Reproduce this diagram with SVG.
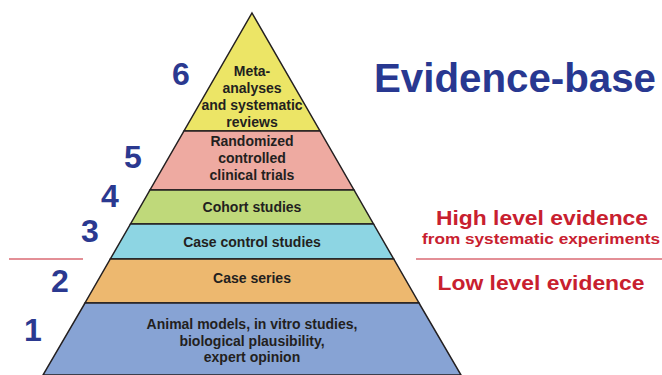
<svg xmlns="http://www.w3.org/2000/svg" width="662" height="375" viewBox="0 0 662 375">
<style>
.band{stroke:#231f20;stroke-width:1.5;stroke-linejoin:miter}
.lbl{font-family:"Liberation Sans",Arial,sans-serif;font-weight:bold;font-size:14px;fill:#231f20;text-anchor:middle}
.num{font-family:"Liberation Sans",Arial,sans-serif;font-weight:bold;font-size:32px;fill:#2b3990;text-anchor:middle}
.red{font-family:"Liberation Sans",Arial,sans-serif;font-weight:bold;fill:#c8202f;text-anchor:middle}
.sep{stroke:#c8202f;stroke-width:1.2}
</style>
<rect width="662" height="375" fill="#ffffff"/>
<g id="level6">
<polygon class="band" fill="#ece566" points="252,13 320,131 184,131"/>
<text class="lbl"><tspan x="252" y="76">Meta-</tspan><tspan x="252" y="93">analyses</tspan><tspan x="252" y="110">and systematic</tspan><tspan x="252" y="127">reviews</tspan></text>
<text class="num" x="181" y="85">6</text>
</g>
<g id="level5">
<polygon class="band" fill="#eeaaa1" points="184,131 320,131 354,190 150,190"/>
<text class="lbl"><tspan x="252" y="146">Randomized</tspan><tspan x="252" y="163">controlled</tspan><tspan x="252" y="180">clinical trials</tspan></text>
<text class="num" x="133" y="168">5</text>
</g>
<g id="level4">
<polygon class="band" fill="#bfd97a" points="150,190 354,190 373.5,224 130.5,224"/>
<text class="lbl" x="252" y="212">Cohort studies</text>
<text class="num" x="110" y="207">4</text>
</g>
<g id="level3">
<polygon class="band" fill="#8dd5e3" points="130.5,224 373.5,224 393.7,259 110.3,259"/>
<text class="lbl" x="252" y="247">Case control studies</text>
<text class="num" x="90" y="242">3</text>
</g>
<g id="level2">
<polygon class="band" fill="#edb86f" points="110.3,259 393.7,259 419,303 85,303"/>
<text class="lbl" x="252" y="283">Case series</text>
<text class="num" x="60" y="292">2</text>
</g>
<g id="level1">
<polygon class="band" fill="#87a3d4" points="85,303 419,303 461,375 43,375"/>
<text class="lbl"><tspan x="252" y="329">Animal models, in vitro studies,</tspan><tspan x="252" y="346">biological plausibility,</tspan><tspan x="252" y="362">expert opinion</tspan></text>
<text class="num" x="33" y="341">1</text>
</g>
<g id="connectors">
<line class="sep" x1="9" y1="259" x2="83" y2="259"/>
<line class="sep" x1="416" y1="259" x2="662" y2="259"/>
</g>
<g id="title">
<text x="515" y="92" font-family="Liberation Sans,Arial,sans-serif" font-weight="bold" font-size="40" fill="#283891" text-anchor="middle" textLength="282" lengthAdjust="spacingAndGlyphs">Evidence-base</text>
</g>
<g id="annotations">
<text class="red" x="542" y="225" font-size="21" textLength="212" lengthAdjust="spacingAndGlyphs">High level evidence</text>
<text class="red" x="541" y="244" font-size="15" textLength="238" lengthAdjust="spacingAndGlyphs">from systematic experiments</text>
<text class="red" x="541" y="290" font-size="21" textLength="207" lengthAdjust="spacingAndGlyphs">Low level evidence</text>
</g>
</svg>
